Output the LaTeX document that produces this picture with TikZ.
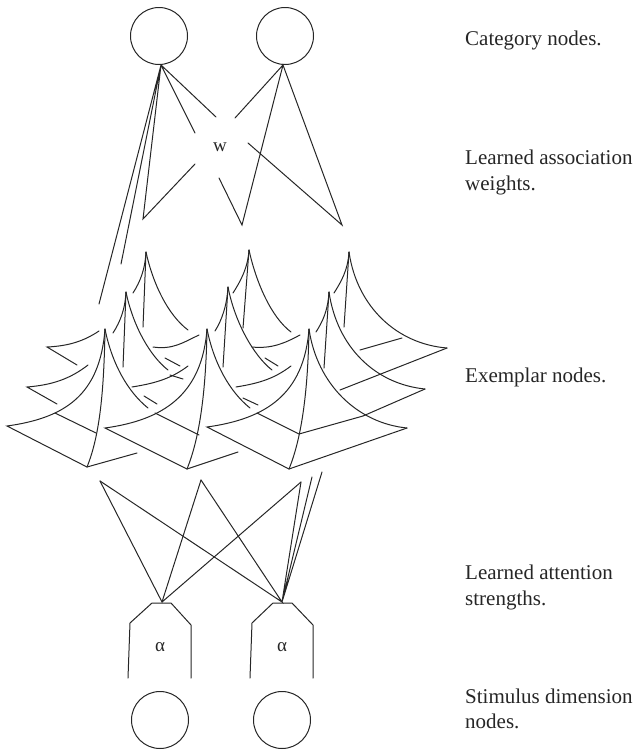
\documentclass[tikz,border=0pt]{standalone}
\usepackage{fontspec}
\setmainfont{Liberation Serif}
\tikzset{
  ln/.style={draw=black!85,line width=1pt,line cap=round,line join=miter},
  circ/.style={circle,draw=black!85,line width=1pt,minimum size=57pt,inner sep=0pt},
  lab/.style={anchor=base west,inner sep=0pt,font=\fontsize{21}{26}\selectfont,text=black!85},
  sym/.style={inner sep=0pt,font=\fontsize{19}{22}\selectfont,text=black!85},
}
\begin{document}
\begin{tikzpicture}[x=1pt,y=-1pt]
\useasboundingbox (0,0) rectangle (637,750);
% top nodes
\node[circ] (c1) at (159,36) {};
\node[circ] (c2) at (285,36) {};
\node[sym] (w) at (220,147) {w};
\coordinate (t1) at (161,65);
\coordinate (t2) at (283,65);
\foreach \n/\x/\y in {a/216/117,b/195/133,c/143/219,d/195/164,e/235/118,f/242/225,g/219/178,h/342/225,i/248/143,j/99/304,k/121/264}
  \coordinate (\n) at (\x,\y);
\draw[ln] (t1) -- (a) (t1) -- (b) (d) -- (c) -- (t1) (t1) -- (j) (t1) -- (k);
\draw[ln] (t2) -- (e) (g) -- (f) -- (t2) -- (h) -- (i);
% back row
\foreach \A/\ax/\ay/\sx/\sy/\ex/\ey/\rx/\ry in {
  1/146/252/133/293/143/327/188/330,
  2/249/250/233/293/243/328/291/332,
  3/349/252/334/293/344/327/447/348}{
  \coordinate (bA\A) at (\ax,\ay);
  \coordinate (bS\A) at (\sx,\sy);
  \coordinate (bE\A) at (\ex,\ey);
  \coordinate (bR\A) at (\rx,\ry);
  \draw[ln] (bA\A) -- (bE\A);
  \draw[ln] (bA\A) .. controls +(-1,18) and +(7,-11) .. (bS\A);
}
\draw[ln] (bA1) .. controls +(7,32) and +(-20,-15) .. (bR1);
\draw[ln] (bA2) .. controls +(7,32) and +(-20,-15) .. (bR2);
\draw[ln] (bA3) .. controls +(8,55) and +(-50,-4) .. (bR3);
% middle row
\foreach \A/\ax/\ay/\sx/\sy/\ex/\ey/\rx/\ry in {
  1/126/292/113/333/123/367/168/370,
  2/228/287/215/331/223/367/272/370,
  3/329/292/316/332/324/368/425/389}{
  \coordinate (mA\A) at (\ax,\ay);
  \coordinate (mS\A) at (\sx,\sy);
  \coordinate (mE\A) at (\ex,\ey);
  \coordinate (mR\A) at (\rx,\ry);
  \draw[ln] (mA\A) -- (mE\A);
  \draw[ln] (mA\A) .. controls +(-1,18) and +(7,-11) .. (mS\A);
}
\draw[ln] (mA1) .. controls +(7,34) and +(-18,-14) .. (mR1);
\draw[ln] (mA2) .. controls +(7,36) and +(-18,-14) .. (mR2);
\draw[ln] (mA3) .. controls +(8,55) and +(-50,-5) .. (mR3);
% front row
\coordinate (fA1) at (105,329); \coordinate (fL1) at (7,426);  \coordinate (fB1) at (87,467);  \coordinate (fR1) at (148,408);
\coordinate (fA2) at (207,329); \coordinate (fL2) at (105,428);\coordinate (fB2) at (187,469); \coordinate (fR2) at (250,408);
\coordinate (fA3) at (309,329); \coordinate (fL3) at (207,427);\coordinate (fB3) at (289,469); \coordinate (fR3) at (407,428);
\foreach \i in {1,2,3}{
  \draw[ln] (fA\i) .. controls +(-5,66) and +(58,-8) .. (fL\i) -- (fB\i);
  \draw[ln] (fA\i) .. controls +(-1,61) and +(13,-32) .. (fB\i);
}
\draw[ln] (fA1) .. controls +(7,35) and +(-20,-16) .. (fR1);
\draw[ln] (fA2) .. controls +(7,35) and +(-20,-16) .. (fR2);
\draw[ln] (fA3) .. controls +(8,55) and +(-50,-5) .. (fR3);
\draw[ln] (fB3) -- (fR3);
\coordinate (x1) at (137,453); \coordinate (x2) at (238,452);
\draw[ln] (fB1) -- (x1) (fB2) -- (x2);
% floor fragments, front row
\coordinate (p1) at (55,413);  \coordinate (q1) at (96,433);
\coordinate (p2) at (155,413); \coordinate (q2) at (199,435);
\coordinate (p3) at (257,413); \coordinate (q3) at (299,434); \coordinate (q4) at (363,416);
\draw[ln] (p1) -- (q1) (p2) -- (q2) (p3) -- (q3) -- (q4);
% left corners, middle row
\coordinate (ml1) at (27,387); \coordinate (ms1) at (88,365); \coordinate (me1) at (57,404);
\draw[ln] (ms1) .. controls +(-18,14) and +(25,-2) .. (ml1) -- (me1);
\coordinate (ml2) at (132,387); \coordinate (ms2) at (188,366);
\draw[ln] (ms2) .. controls +(-16,12) and +(25,-4) .. (ml2);
\coordinate (ml3) at (236,387); \coordinate (ms3) at (291,366);
\draw[ln] (ms3) .. controls +(-16,12) and +(25,-4) .. (ml3);
% left corners, back row
\coordinate (bl1) at (47,347); \coordinate (bs1) at (99,331); \coordinate (be1) at (77,365);
\draw[ln] (bs1) .. controls +(-15,10) and +(22,-1) .. (bl1) -- (be1);
\coordinate (bl2) at (153,347); \coordinate (bs2) at (199,335);
\draw[ln] (bs2) .. controls +(-15,7) and +(20,3) .. (bl2);
\coordinate (bl3) at (252,347); \coordinate (bs3) at (300,335);
\draw[ln] (bs3) .. controls +(-15,8) and +(20,2) .. (bl3);
% dashes
\foreach \n/\ux/\uy/\vx/\vy in {1/144/396/157/404, 2/243/398/258/405, 3/165/358/180/366, 4/265/358/278/366, 5/170/375/183/379}{
  \coordinate (du\n) at (\ux,\uy); \coordinate (dv\n) at (\vx,\vy);
  \draw[ln] (du\n) -- (dv\n);
}
% right-hand floors
\coordinate (r2) at (340,390);
\coordinate (r3) at (402,338); \coordinate (r4) at (360,350);
\draw[ln] (bR3) -- (r2) (mR3) -- (q4) (r3) -- (r4);
% alpha units
\coordinate (h1) at (162,602);
\coordinate (h2) at (282,602);
\coordinate (u1) at (100,481);
\coordinate (u2) at (201,480);
\coordinate (u3) at (301,482);
\coordinate (u4) at (312,477);
\coordinate (u5) at (322,472);
\draw[ln] (u1) -- (h1) -- (u2) (h1) -- (u3);
\draw[ln] (u1) -- (h2) -- (u2) (h2) -- (u3) (h2) -- (u4) (h2) -- (u5);
\draw[ln] (128,678) -- (130,623) -- (152,603) -- (171,603) -- (191,625) -- (191,678);
\draw[ln] (250,678) -- (252,623) -- (273,603) -- (292,603) -- (313,625) -- (313,678);
\node[sym] (al1) at (160,647) {α};
\node[sym] (al2) at (282,647) {α};
\node[circ] (s1) at (160,720) {};
\node[circ] (s2) at (282,720) {};
% labels
\node[lab] (l1) at (465,45) {Category nodes.};
\node[lab] (l2) at (465,164) {Learned association};
\node[lab] (l3) at (465,190) {weights.};
\node[lab] (l4) at (465,382) {Exemplar nodes.};
\node[lab] (l5) at (465,579) {Learned attention};
\node[lab] (l6) at (465,605) {strengths.};
\node[lab] (l7) at (465,703) {Stimulus dimension};
\node[lab] (l8) at (465,728) {nodes.};
\end{tikzpicture}
\end{document}
